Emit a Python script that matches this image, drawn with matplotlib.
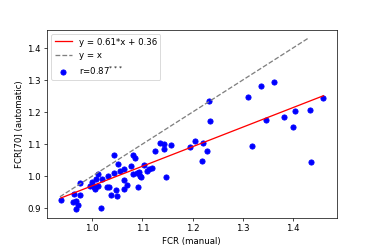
import matplotlib
matplotlib.use("Agg")
import matplotlib.pyplot as plt
import numpy as np

# FCR values
fcr_manual = [
    0.938, 0.962, 0.964, 0.968, 0.968, 0.972, 0.976, 0.975, 0.995, 0.999,
    1.003, 1.006, 1.008, 1.011, 1.012, 1.017, 1.020, 1.029, 1.032, 1.033,
    1.038, 1.043, 1.044, 1.048, 1.049, 1.051, 1.056, 1.063, 1.064, 1.064,
    1.070, 1.077, 1.081, 1.082, 1.085, 1.090, 1.091, 1.093, 1.095, 1.098,
    1.103, 1.109, 1.114, 1.119, 1.126, 1.136, 1.142, 1.143, 1.146, 1.157,
    1.194, 1.204, 1.219, 1.221, 1.228, 1.233, 1.235, 1.311, 1.317, 1.336,
    1.346, 1.362, 1.381, 1.400, 1.403, 1.434, 1.436, 1.460,
]
fcr_auto = [
    0.925, 0.920, 0.944, 0.923, 0.897, 0.909, 0.943, 0.980, 0.971, 0.982,
    0.967, 0.960, 0.990, 1.006, 0.971, 0.900, 0.991, 0.967, 1.001, 0.965,
    0.943, 1.011, 1.066, 0.958, 0.939, 1.039, 1.015, 0.988, 0.961, 1.023,
    0.973, 1.033, 1.007, 1.066, 1.057, 1.011, 0.966, 1.014, 1.001, 0.998,
    1.034, 1.015, 1.024, 1.027, 1.079, 1.102, 1.100, 1.084, 0.998, 1.097,
    1.090, 1.109, 1.047, 1.104, 1.077, 1.235, 1.173, 1.246, 1.095, 1.281,
    1.174, 1.293, 1.183, 1.153, 1.204, 1.205, 1.045, 1.245,
]
slope, intercept = 0.61, 0.36
identity_range = [0.936, 1.43]


def main():
    fig = plt.figure(figsize=(6, 4), dpi=62.33)
    fig.subplots_adjust(left=0.125, right=0.9, top=0.88, bottom=0.125)
    ax = fig.add_subplot(111)

    x = np.array(fcr_manual)
    xs = np.array([x.min(), x.max()])
    ax.plot(xs, slope * xs + intercept, color="red",
            label="y = %.2f*x + %.2f" % (slope, intercept))
    ax.plot(identity_range, identity_range, "--", color="gray", label="y = x")
    ax.scatter(fcr_manual, fcr_auto, color="blue", label=r"r=0.87$^{***}$")

    ax.set_xlabel("FCR (manual)")
    ax.set_ylabel("FCR[70] (automatic)")
    ax.legend(loc="upper left")
    fig.savefig("out.png", dpi=62.33)


if __name__ == "__main__":
    main()
